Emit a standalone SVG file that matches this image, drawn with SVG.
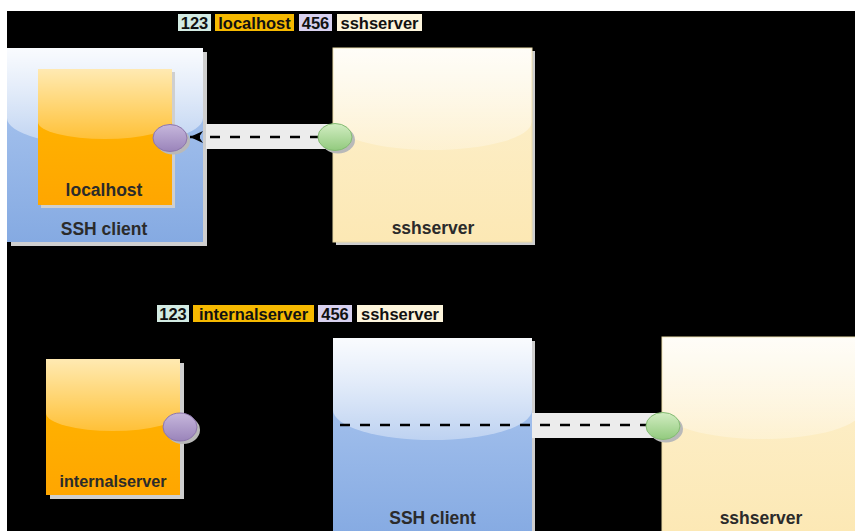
<svg xmlns="http://www.w3.org/2000/svg" width="855" height="531" viewBox="0 0 855 531">
  <defs>
    <linearGradient id="gBlue" x1="0" y1="0" x2="0" y2="1">
      <stop offset="0" stop-color="#b0caf1"/>
      <stop offset="1" stop-color="#85aae2"/>
    </linearGradient>
    <linearGradient id="gOrange" x1="0" y1="0" x2="0" y2="1">
      <stop offset="0" stop-color="#ffb800"/>
      <stop offset="1" stop-color="#ffa600"/>
    </linearGradient>
    <linearGradient id="gCream" x1="0" y1="0" x2="0" y2="1">
      <stop offset="0" stop-color="#fdf1d0"/>
      <stop offset="1" stop-color="#fce8b4"/>
    </linearGradient>
    <linearGradient id="gGloss" x1="0" y1="0" x2="0" y2="1">
      <stop offset="0" stop-color="#fff" stop-opacity="0.93"/>
      <stop offset="1" stop-color="#fff" stop-opacity="0.35"/>
    </linearGradient>
    <linearGradient id="gGlossC" x1="0" y1="0" x2="0" y2="1">
      <stop offset="0" stop-color="#fff" stop-opacity="0.85"/>
      <stop offset="1" stop-color="#fff" stop-opacity="0.25"/>
    </linearGradient>
    <linearGradient id="gGlossO" x1="0" y1="0" x2="0" y2="1">
      <stop offset="0" stop-color="#fff" stop-opacity="0.7"/>
      <stop offset="1" stop-color="#fff" stop-opacity="0.22"/>
    </linearGradient>
    <linearGradient id="gPurple" x1="0" y1="0" x2="0" y2="1">
      <stop offset="0" stop-color="#c6b7dc"/>
      <stop offset="1" stop-color="#9a84ba"/>
    </linearGradient>
    <linearGradient id="gGreen" x1="0" y1="0" x2="0" y2="1">
      <stop offset="0" stop-color="#d2edc2"/>
      <stop offset="1" stop-color="#92ca7e"/>
    </linearGradient>
    <marker id="arrow" viewBox="0 0 14 12" refX="13" refY="6" markerWidth="14" markerHeight="12" markerUnits="userSpaceOnUse" orient="auto">
      <path d="M13,6 L0,0 L4,6 L0,12 Z" fill="#000"/>
    </marker>
    <style>
      .shadow { fill: #cfcfcf; }
      .lbl { font-family: "Liberation Sans", Arial, sans-serif; font-weight: bold; font-size: 17.5px; fill: #2b2b2b; text-anchor: middle; }
      .tag { font-family: "Liberation Sans", Arial, sans-serif; font-weight: bold; font-size: 16.5px; fill: #111; text-anchor: middle; }
      .band { fill: #ececec; }
      .dash { stroke: #000; stroke-width: 2.6; stroke-dasharray: 10 10; fill: none; }
      .cshadow { fill: #b9b9b9; }
      .port-p { fill: url(#gPurple); stroke: #8d76ad; stroke-width: 1; }
      .port-g { fill: url(#gGreen); stroke: #84bb72; stroke-width: 1; }
    </style>
  </defs>

  <!-- page -->
  <rect x="0" y="0" width="855" height="531" fill="#fff"/>
  <rect x="7" y="11" width="848" height="520" fill="#000"/>

  <!-- port legend, upper scenario -->
  <g id="legend-top">
    <rect x="178" y="14" width="33" height="17" fill="#d3ebe3"/>
    <rect x="215" y="14" width="79" height="17" fill="#f6b900"/>
    <rect x="299" y="14" width="33" height="17" fill="#d8d1ef"/>
    <rect x="337" y="14" width="85" height="17" fill="#fdf5dc"/>
    <text class="tag" x="194.5" y="29">123</text>
    <text class="tag" x="254.5" y="29">localhost</text>
    <text class="tag" x="315.5" y="29">456</text>
    <text class="tag" x="379.5" y="29">sshserver</text>
  </g>

  <!-- port legend, lower scenario -->
  <g id="legend-bottom">
    <rect x="157" y="305" width="32" height="17" fill="#d3ebe3"/>
    <rect x="193" y="305" width="121" height="17" fill="#f6b900"/>
    <rect x="318" y="305" width="34" height="17" fill="#d8d1ef"/>
    <rect x="357" y="305" width="86" height="17" fill="#fdf5dc"/>
    <text class="tag" x="173" y="320">123</text>
    <text class="tag" x="253.5" y="320">internalserver</text>
    <text class="tag" x="335" y="320">456</text>
    <text class="tag" x="400" y="320">sshserver</text>
  </g>

  <!-- upper: SSH client host -->
  <g id="ssh-client-1">
    <rect class="shadow" x="11" y="52" width="196" height="194"/>
    <rect x="7" y="48" width="196" height="194" fill="url(#gBlue)"/>
    <path d="M7,48 H203 V118 A98,28 0 0 1 7,118 Z" fill="url(#gGloss)"/>
    <text class="lbl" x="104" y="235">SSH client</text>
  </g>

  <!-- upper: localhost inside the client -->
  <g id="localhost">
    <rect class="shadow" x="41" y="72" width="134" height="136"/>
    <rect x="38" y="69" width="134" height="136" fill="url(#gOrange)"/>
    <path d="M38,69 H172 V122 A67,17 0 0 1 38,122 Z" fill="url(#gGlossO)"/>
    <text class="lbl" x="104" y="196">localhost</text>
  </g>

  <!-- upper: sshserver -->
  <g id="sshserver-1">
    <rect class="shadow" x="336" y="51" width="199" height="194"/>
    <rect x="333" y="48" width="199" height="194" fill="url(#gCream)" stroke="#eadba8" stroke-width="1"/>
    <path d="M333.5,48.5 H531.5 V122 A99,28 0 0 1 333.5,122 Z" fill="url(#gGlossC)"/>
    <text class="lbl" x="433" y="234">sshserver</text>
  </g>

  <!-- lower: internalserver -->
  <g id="internalserver">
    <rect class="shadow" x="50" y="363" width="134" height="136"/>
    <rect x="46" y="359" width="134" height="136" fill="url(#gOrange)"/>
    <path d="M46,359 H180 V413 A67,18 0 0 1 46,413 Z" fill="url(#gGlossO)"/>
    <text class="lbl" x="113" y="487" style="font-size:16.2px">internalserver</text>
  </g>

  <!-- lower: SSH client host -->
  <g id="ssh-client-2">
    <rect class="shadow" x="336" y="341" width="199" height="200"/>
    <rect x="333" y="338" width="199" height="200" fill="url(#gBlue)"/>
    <path d="M333,338 H532 V410 A99.5,30 0 0 1 333,410 Z" fill="url(#gGloss)"/>
    <text class="lbl" x="432.5" y="524">SSH client</text>
  </g>

  <!-- lower: sshserver -->
  <g id="sshserver-2">
    <rect x="662" y="337" width="200" height="200" fill="url(#gCream)" stroke="#eadba8" stroke-width="1"/>
    <path d="M662.5,337.5 H862 V410 A99.75,29 0 0 1 662.5,410 Z" fill="url(#gGlossC)"/>
    <text class="lbl" x="761" y="524">sshserver</text>
  </g>

  <!-- tunnels -->
  <g id="connectors">
    <rect class="band" x="206" y="124" width="128" height="25"/>
    <line class="dash" x1="320" y1="137" x2="190" y2="137" marker-end="url(#arrow)"/>

    <rect class="band" x="532" y="413" width="131" height="25"/>
    <line class="dash" x1="340" y1="425" x2="652" y2="425"/>
  </g>

  <!-- ports -->
  <g id="port-456-top">
    <ellipse class="cshadow" cx="173" cy="141" rx="17" ry="13.5"/>
    <ellipse class="port-p" cx="170" cy="138" rx="17" ry="13.5"/>
  </g>
  <g id="port-123-top">
    <ellipse class="cshadow" cx="338" cy="140" rx="17" ry="13.5"/>
    <ellipse class="port-g" cx="335" cy="137" rx="17" ry="13.5"/>
  </g>
  <g id="port-456-bottom">
    <ellipse class="cshadow" cx="183" cy="430" rx="17" ry="14"/>
    <ellipse class="port-p" cx="180" cy="427" rx="17" ry="14"/>
  </g>
  <g id="port-123-bottom">
    <ellipse class="cshadow" cx="666" cy="429" rx="17" ry="13.5"/>
    <ellipse class="port-g" cx="663" cy="426" rx="17" ry="13.5"/>
  </g>
</svg>
